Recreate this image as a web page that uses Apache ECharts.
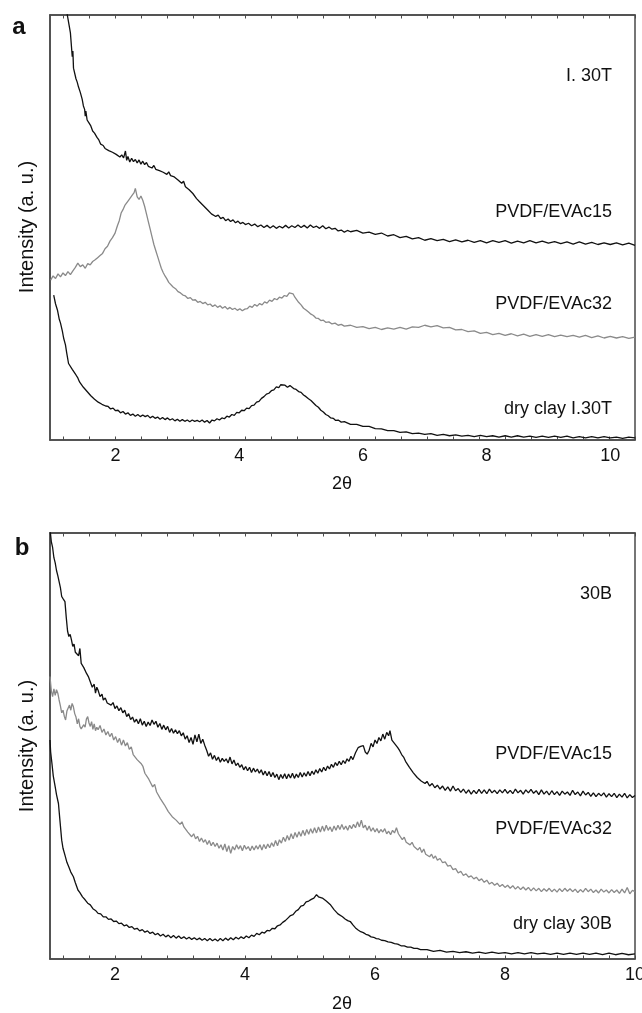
<!DOCTYPE html>
<html>
<head>
<meta charset="utf-8">
<script src="https://cdn.jsdelivr.net/npm/echarts@6/dist/echarts.min.js"></script>
<style>
html,body{margin:0;padding:0;background:#fff;}
#c{width:642px;height:1013px;}
</style>
</head>
<body>
<div id="c"></div>
<script>
// ---------- data (2θ, intensity a.u.) ----------
const xLabelsA = [2,4,6,8,10];
const xLabelsB = [2,4,6,8,10];
const xTicksA = [1.16,1.58,2.00,2.42,2.84,3.26,3.68,4.10,4.52,4.94,5.36,5.78,6.20,6.62,7.04,7.46,7.88,8.30,8.72,9.14,9.56,9.98,10.40];
const xTicksB = [1.2,1.6,2.0,2.4,2.8,3.2,3.6,4.0,4.4,4.8,5.2,5.6,6.0,6.4,6.8,7.2,7.6,8.0,8.4,8.8,9.2,9.6,10.0];

const labelsA = ["I. 30T","PVDF/EVAc15","PVDF/EVAc32","dry clay I.30T"];
const labelsB = ["30B","PVDF/EVAc15","PVDF/EVAc32","dry clay 30B"];

// Panel a — PVDF/EVAc15 (I.30T)
const a_evac15 = [[1.18,106],[1.22,100],[1.25,97.5],[1.27,95.8],[1.29,92],[1.30,90.2],[1.31,91.5],[1.32,87.5],[1.34,87.8],[1.36,85],[1.38,84.2],[1.40,83.1],[1.43,81.8],[1.46,80.2],[1.48,78.6],[1.50,77.8],[1.51,76.2],[1.52,77.4],[1.54,75.3],[1.57,74.6],[1.60,73.9],[1.63,72.7],[1.66,72.2],[1.70,71.2],[1.73,70.6],[1.76,69.6],[1.80,69.3],[1.83,68.6],[1.86,68.9],[1.89,68.1],[1.92,68.4],[1.95,67.7],[1.98,67.9],[2.01,67.2],[2.04,67.6],[2.07,66.6],[2.10,67.1],[2.13,66.4],[2.16,68.0],[2.18,65.8],[2.20,66.7],[2.23,65.4],[2.26,66.3],[2.29,65.5],[2.32,66.0],[2.35,65.2],[2.38,65.9],[2.41,64.9],[2.44,65.6],[2.47,64.8],[2.50,65.3],[2.53,64.4],[2.56,64.8],[2.59,64.0],[2.62,64.6],[2.65,63.7],[2.68,64.1],[2.71,63.4],[2.74,63.8],[2.77,63.0],[2.80,63.4],[2.83,62.5],[2.86,63.1],[2.89,62.2],[2.92,62.6],[2.95,61.9],[2.98,62.2],[3.01,61.2],[3.04,61.6],[3.07,60.4],[3.10,60.9],[3.13,59.6],[3.16,59.9],[3.19,58.9],[3.22,59.2],[3.25,58.0],[3.28,57.6],[3.31,56.8],[3.34,56.9],[3.37,55.9],[3.40,55.7],[3.43,55.0],[3.46,54.6],[3.49,54.1],[3.52,53.9],[3.55,53.2],[3.58,53.4],[3.62,52.6],[3.66,52.9],[3.70,52.1],[3.74,52.4],[3.78,51.6],[3.82,52.0],[3.86,51.4],[3.90,51.8],[3.94,51.1],[3.98,51.5],[4.02,50.9],[4.06,51.2],[4.10,50.7],[4.15,51.0],[4.20,50.4],[4.25,50.8],[4.30,50.2],[4.35,50.6],[4.40,50.0],[4.45,50.5],[4.50,49.9],[4.55,50.4],[4.60,49.8],[4.65,50.3],[4.70,49.9],[4.75,50.5],[4.80,49.9],[4.85,50.4],[4.90,50.0],[4.95,50.6],[5.00,50.0],[5.05,50.5],[5.10,49.9],[5.15,50.6],[5.20,50.0],[5.25,50.3],[5.30,49.8],[5.35,50.4],[5.40,49.7],[5.45,50.1],[5.50,49.6],[5.55,49.8],[5.60,49.2],[5.65,49.4],[5.70,48.9],[5.75,49.3],[5.80,49.0],[5.90,49.3],[6.00,48.7],[6.10,48.9],[6.20,48.4],[6.30,48.7],[6.40,48.0],[6.50,48.3],[6.60,47.6],[6.70,47.9],[6.80,47.3],[6.90,47.6],[7.00,47.0],[7.10,47.4],[7.20,46.9],[7.30,47.2],[7.40,46.7],[7.50,47.1],[7.60,46.6],[7.70,47.0],[7.80,46.5],[7.90,46.9],[8.00,46.4],[8.10,46.9],[8.20,46.5],[8.30,46.9],[8.40,46.3],[8.50,46.8],[8.60,46.4],[8.70,46.9],[8.80,46.4],[8.90,46.8],[9.00,46.3],[9.10,46.7],[9.20,46.2],[9.30,46.6],[9.40,46.1],[9.50,46.6],[9.60,46.1],[9.70,46.5],[9.80,46.0],[9.90,46.4],[10.00,46.0],[10.10,46.4],[10.20,45.9],[10.30,46.3],[10.40,45.8]];

// Panel a — PVDF/EVAc32 (I.30T)
const a_evac32 = [[0.95,37.6],[0.99,38.6],[1.03,38.0],[1.07,39.1],[1.11,38.4],[1.15,39.3],[1.19,38.7],[1.23,39.6],[1.27,38.9],[1.31,39.8],[1.35,40.6],[1.39,41.6],[1.43,40.8],[1.47,41.2],[1.51,40.4],[1.55,41.5],[1.59,41.2],[1.63,42.0],[1.67,42.4],[1.71,42.9],[1.75,43.4],[1.79,43.9],[1.83,45.0],[1.87,45.6],[1.91,46.8],[1.95,47.6],[1.99,48.6],[2.03,50.4],[2.06,51.6],[2.09,53.4],[2.12,54.2],[2.15,55.2],[2.18,55.6],[2.21,56.4],[2.24,56.6],[2.27,57.6],[2.30,58.2],[2.32,59.2],[2.35,57.2],[2.38,56.6],[2.41,57.4],[2.44,56.4],[2.47,55.0],[2.50,53.2],[2.53,51.4],[2.56,49.6],[2.59,47.8],[2.62,46.0],[2.65,44.6],[2.68,43.2],[2.71,41.8],[2.74,40.4],[2.77,39.4],[2.80,38.6],[2.83,37.9],[2.86,37.1],[2.89,36.8],[2.93,36.0],[2.97,35.6],[3.01,34.9],[3.05,34.6],[3.09,34.1],[3.13,33.9],[3.17,33.3],[3.21,33.5],[3.25,32.9],[3.29,33.0],[3.33,32.4],[3.37,32.6],[3.41,32.1],[3.45,32.4],[3.49,31.8],[3.53,32.0],[3.57,31.4],[3.61,31.8],[3.65,31.2],[3.69,31.6],[3.73,31.0],[3.77,31.4],[3.81,30.8],[3.85,31.2],[3.89,30.7],[3.93,31.0],[3.97,30.5],[4.01,30.9],[4.05,30.4],[4.09,30.8],[4.13,30.9],[4.17,31.5],[4.21,31.2],[4.25,31.9],[4.29,31.5],[4.33,32.1],[4.37,31.8],[4.41,32.5],[4.45,32.2],[4.49,32.9],[4.53,32.6],[4.57,33.3],[4.61,33.0],[4.65,33.6],[4.69,33.4],[4.73,34.0],[4.77,33.8],[4.81,34.6],[4.84,34.2],[4.87,34.4],[4.90,33.6],[4.93,33.2],[4.96,32.4],[5.00,31.8],[5.04,31.0],[5.08,30.6],[5.12,30.1],[5.16,29.6],[5.20,29.3],[5.24,28.7],[5.28,28.6],[5.32,28.1],[5.36,28.2],[5.40,27.7],[5.45,27.8],[5.50,27.3],[5.55,27.5],[5.60,27.0],[5.65,27.2],[5.70,26.8],[5.80,27.0],[5.90,26.5],[6.00,26.7],[6.10,26.2],[6.20,26.5],[6.30,26.0],[6.40,26.4],[6.50,26.1],[6.60,26.5],[6.70,26.1],[6.80,26.6],[6.90,26.5],[7.00,27.0],[7.10,26.6],[7.20,26.9],[7.30,26.4],[7.40,26.5],[7.50,25.9],[7.60,26.0],[7.70,25.5],[7.80,25.7],[7.90,25.1],[8.00,25.3],[8.10,24.8],[8.20,25.1],[8.30,24.6],[8.40,25.0],[8.50,24.5],[8.60,24.9],[8.70,24.4],[8.80,24.8],[8.90,24.4],[9.00,24.8],[9.10,24.3],[9.20,24.7],[9.30,24.3],[9.40,24.6],[9.50,24.2],[9.60,24.6],[9.70,24.1],[9.80,24.5],[9.90,24.0],[10.00,24.4],[10.10,24.0],[10.20,24.3],[10.30,23.9],[10.40,24.2]];

// Panel a — dry clay I.30T
const a_dry = [[1.00,34.1],[1.03,32.0],[1.06,30.6],[1.09,28.4],[1.11,27.5],[1.14,25.6],[1.16,24.0],[1.19,22.4],[1.21,20.5],[1.24,18.0],[1.27,17.6],[1.30,16.6],[1.33,16.3],[1.36,15.3],[1.39,14.6],[1.42,13.6],[1.45,13.2],[1.48,12.4],[1.51,12.1],[1.54,11.4],[1.57,11.0],[1.60,10.4],[1.63,10.0],[1.66,9.6],[1.69,9.5],[1.72,8.9],[1.75,9.0],[1.78,8.4],[1.81,8.5],[1.84,8.0],[1.88,7.9],[1.92,7.3],[1.96,7.5],[2.00,6.9],[2.04,7.0],[2.08,6.4],[2.12,6.7],[2.16,6.1],[2.20,6.4],[2.24,5.8],[2.28,6.1],[2.32,5.6],[2.36,6.0],[2.40,5.5],[2.44,5.9],[2.48,5.5],[2.52,5.8],[2.56,5.2],[2.60,5.6],[2.64,5.1],[2.68,5.4],[2.72,4.9],[2.76,5.3],[2.80,4.8],[2.84,5.2],[2.88,4.7],[2.92,5.0],[2.96,4.5],[3.00,4.9],[3.04,4.4],[3.08,4.8],[3.12,4.4],[3.16,4.7],[3.20,4.3],[3.24,4.7],[3.28,4.4],[3.32,4.6],[3.36,4.3],[3.40,4.7],[3.44,4.2],[3.48,4.6],[3.52,4.0],[3.56,4.7],[3.60,4.5],[3.64,5.0],[3.68,4.7],[3.72,5.2],[3.76,5.0],[3.80,5.6],[3.84,5.4],[3.88,6.0],[3.92,5.8],[3.96,6.5],[4.00,6.4],[4.04,7.0],[4.08,6.9],[4.12,7.5],[4.16,7.4],[4.20,8.1],[4.24,8.2],[4.28,8.9],[4.32,9.1],[4.36,9.8],[4.40,10.2],[4.44,10.8],[4.48,11.0],[4.52,11.6],[4.56,11.8],[4.60,12.5],[4.64,12.3],[4.67,13.0],[4.70,12.6],[4.74,12.9],[4.78,12.4],[4.82,12.8],[4.85,12.6],[4.88,12.1],[4.92,11.9],[4.96,11.4],[5.00,11.2],[5.04,10.6],[5.08,10.2],[5.12,9.7],[5.16,9.3],[5.20,8.7],[5.24,8.1],[5.28,7.7],[5.32,7.0],[5.36,6.6],[5.40,6.0],[5.44,5.7],[5.48,5.2],[5.52,5.1],[5.56,4.6],[5.60,4.7],[5.65,4.2],[5.70,4.3],[5.80,3.7],[5.90,3.7],[6.00,3.2],[6.10,3.2],[6.20,2.7],[6.30,2.6],[6.40,2.2],[6.50,2.2],[6.60,1.8],[6.70,1.9],[6.80,1.5],[6.90,1.6],[7.00,1.3],[7.10,1.5],[7.20,1.1],[7.30,1.3],[7.40,1.0],[7.50,1.2],[7.60,0.9],[7.70,1.1],[7.80,0.8],[7.90,1.1],[8.00,0.8],[8.10,1.0],[8.20,0.7],[8.30,1.0],[8.40,0.7],[8.50,1.0],[8.60,0.7],[8.70,0.9],[8.80,0.6],[8.90,0.9],[9.00,0.6],[9.10,0.9],[9.20,0.6],[9.30,0.9],[9.40,0.5],[9.50,0.8],[9.60,0.5],[9.70,0.8],[9.80,0.5],[9.90,0.8],[10.00,0.5],[10.10,0.7],[10.20,0.4],[10.30,0.7],[10.40,0.5]];

// Panel b — PVDF/EVAc15 (30B)
const b_evac15 = [[1.00,101],[1.02,98.0],[1.04,96.6],[1.06,94.2],[1.08,93.0],[1.10,91.2],[1.12,90.0],[1.14,88.6],[1.16,87.2],[1.18,85.1],[1.20,84.6],[1.23,83.9],[1.25,80.2],[1.27,77.0],[1.29,75.7],[1.31,76.2],[1.33,74.9],[1.35,73.4],[1.37,73.9],[1.39,72.0],[1.41,71.8],[1.44,71.2],[1.46,72.9],[1.48,69.4],[1.50,69.8],[1.52,68.4],[1.54,68.8],[1.56,67.1],[1.59,66.3],[1.62,65.9],[1.65,63.8],[1.68,64.5],[1.70,62.4],[1.72,63.8],[1.74,63.1],[1.77,61.6],[1.80,62.2],[1.82,60.8],[1.85,61.3],[1.88,60.1],[1.91,60.4],[1.94,59.6],[1.97,60.2],[2.00,58.8],[2.03,59.4],[2.06,58.3],[2.09,59.0],[2.12,57.8],[2.15,58.4],[2.18,56.9],[2.21,57.6],[2.24,56.2],[2.27,56.8],[2.30,55.6],[2.33,56.3],[2.36,55.2],[2.39,56.4],[2.42,54.9],[2.45,55.8],[2.48,54.6],[2.51,55.6],[2.54,54.8],[2.57,56.1],[2.60,55.1],[2.63,55.8],[2.66,54.4],[2.69,55.3],[2.72,53.9],[2.75,54.9],[2.78,53.8],[2.81,54.6],[2.84,53.2],[2.87,54.1],[2.90,53.0],[2.93,53.8],[2.96,52.9],[2.99,53.6],[3.02,52.4],[3.05,53.1],[3.08,51.6],[3.11,52.4],[3.14,50.8],[3.17,52.0],[3.20,50.4],[3.23,52.6],[3.26,51.0],[3.29,52.8],[3.32,50.6],[3.35,51.6],[3.38,50.2],[3.41,49.0],[3.44,47.6],[3.47,48.4],[3.50,46.9],[3.53,47.8],[3.56,46.6],[3.59,47.4],[3.62,46.2],[3.65,47.1],[3.68,46.4],[3.71,47.0],[3.74,46.0],[3.77,47.4],[3.80,45.8],[3.83,46.7],[3.86,45.4],[3.89,46.0],[3.92,45.0],[3.95,45.6],[3.98,44.4],[4.01,45.2],[4.04,44.2],[4.07,45.0],[4.10,43.8],[4.13,44.8],[4.16,43.9],[4.19,44.6],[4.22,43.6],[4.25,44.4],[4.28,43.2],[4.31,44.1],[4.34,43.0],[4.37,44.0],[4.40,42.8],[4.43,43.8],[4.46,42.6],[4.49,43.4],[4.52,42.1],[4.55,43.3],[4.58,42.4],[4.61,43.5],[4.64,42.3],[4.67,43.4],[4.70,42.5],[4.73,43.6],[4.76,42.4],[4.79,43.4],[4.82,42.6],[4.85,43.8],[4.88,42.7],[4.91,43.7],[4.94,42.9],[4.97,44.0],[5.00,43.0],[5.03,44.1],[5.06,43.3],[5.09,44.4],[5.12,43.6],[5.15,44.7],[5.18,43.9],[5.21,45.0],[5.24,44.2],[5.27,45.3],[5.30,44.6],[5.33,45.7],[5.36,45.0],[5.39,46.1],[5.42,45.4],[5.45,46.4],[5.48,45.6],[5.51,46.6],[5.54,45.9],[5.57,47.0],[5.60,46.4],[5.63,47.6],[5.66,46.8],[5.70,48.4],[5.74,49.6],[5.78,49.9],[5.82,50.1],[5.85,48.6],[5.88,48.1],[5.91,49.0],[5.94,50.6],[5.97,49.8],[6.00,51.4],[6.03,50.6],[6.06,52.0],[6.09,51.2],[6.12,52.8],[6.15,51.6],[6.18,53.2],[6.21,52.4],[6.23,53.6],[6.26,51.4],[6.29,51.8],[6.32,50.2],[6.35,49.6],[6.38,48.9],[6.41,48.0],[6.44,47.4],[6.47,46.4],[6.50,46.0],[6.53,45.0],[6.56,44.8],[6.59,43.7],[6.62,43.6],[6.65,42.6],[6.68,42.8],[6.71,41.8],[6.74,42.2],[6.77,41.2],[6.80,41.7],[6.84,40.6],[6.88,41.2],[6.92,40.2],[6.96,40.8],[7.00,39.9],[7.04,40.6],[7.08,39.6],[7.12,40.4],[7.16,39.4],[7.20,40.6],[7.24,39.5],[7.28,40.0],[7.32,39.1],[7.36,39.9],[7.40,38.9],[7.44,39.7],[7.48,38.7],[7.52,39.6],[7.56,38.8],[7.60,39.8],[7.64,38.9],[7.68,39.7],[7.72,38.8],[7.76,39.9],[7.80,39.0],[7.84,39.6],[7.88,38.8],[7.92,39.7],[7.96,39.0],[8.00,39.8],[8.04,38.9],[8.08,39.6],[8.12,38.8],[8.16,39.9],[8.20,39.0],[8.24,39.6],[8.28,38.7],[8.32,39.7],[8.36,39.0],[8.40,39.8],[8.44,38.9],[8.48,39.5],[8.52,38.6],[8.56,39.7],[8.60,38.7],[8.64,39.4],[8.68,38.5],[8.72,39.5],[8.76,38.6],[8.80,39.3],[8.84,38.4],[8.88,39.4],[8.92,38.7],[8.96,39.2],[9.00,38.4],[9.04,39.6],[9.08,38.6],[9.12,39.2],[9.16,38.3],[9.20,39.4],[9.24,38.5],[9.28,39.1],[9.32,38.2],[9.36,39.0],[9.40,38.1],[9.44,38.9],[9.48,38.3],[9.52,39.0],[9.56,38.0],[9.60,38.8],[9.64,38.1],[9.68,38.9],[9.72,37.9],[9.76,38.7],[9.80,38.0],[9.84,38.9],[9.88,37.8],[9.92,38.6],[9.96,37.9],[10.00,38.4]];

// Panel b — PVDF/EVAc32 (30B)
const b_evac32 = [[1.00,66.3],[1.02,63.0],[1.04,61.6],[1.06,63.4],[1.08,61.9],[1.10,63.2],[1.12,62.4],[1.14,60.8],[1.16,59.4],[1.18,57.8],[1.20,58.4],[1.22,57.0],[1.24,56.1],[1.26,58.2],[1.28,57.9],[1.30,59.6],[1.32,58.4],[1.34,60.0],[1.36,59.2],[1.38,57.6],[1.40,56.8],[1.42,55.2],[1.44,56.4],[1.46,54.6],[1.48,54.0],[1.50,53.8],[1.52,55.0],[1.54,54.4],[1.56,56.3],[1.58,56.9],[1.60,55.4],[1.62,54.6],[1.64,55.7],[1.66,53.9],[1.68,55.2],[1.70,53.6],[1.72,54.4],[1.74,53.8],[1.77,54.8],[1.80,53.2],[1.83,54.0],[1.86,52.6],[1.89,53.4],[1.92,52.2],[1.95,53.0],[1.98,51.4],[2.01,52.2],[2.04,50.8],[2.07,51.8],[2.10,50.2],[2.13,51.4],[2.16,50.0],[2.19,50.8],[2.22,49.2],[2.25,49.8],[2.28,48.0],[2.31,47.6],[2.34,46.8],[2.37,47.2],[2.40,45.9],[2.43,45.2],[2.46,43.6],[2.49,43.9],[2.52,42.2],[2.55,41.8],[2.58,40.4],[2.61,41.0],[2.64,39.2],[2.67,38.8],[2.70,37.6],[2.73,37.9],[2.76,36.2],[2.79,35.8],[2.82,34.6],[2.85,34.9],[2.88,33.4],[2.91,33.8],[2.94,32.6],[2.97,32.9],[3.00,31.6],[3.03,32.2],[3.06,31.0],[3.09,31.2],[3.12,29.8],[3.15,30.0],[3.18,28.7],[3.21,29.4],[3.24,28.2],[3.27,28.8],[3.30,27.6],[3.33,28.4],[3.36,27.4],[3.39,28.0],[3.42,26.9],[3.45,27.8],[3.48,26.6],[3.51,27.4],[3.54,26.4],[3.57,27.2],[3.60,26.0],[3.63,26.8],[3.66,25.6],[3.69,27.0],[3.72,25.2],[3.75,26.6],[3.78,24.8],[3.81,26.4],[3.84,25.6],[3.87,26.8],[3.90,25.8],[3.93,26.6],[3.96,25.4],[3.99,26.7],[4.02,25.8],[4.05,26.4],[4.08,25.4],[4.11,26.5],[4.14,25.6],[4.17,26.6],[4.20,25.8],[4.23,26.8],[4.26,25.6],[4.29,26.9],[4.32,25.9],[4.35,27.0],[4.38,26.1],[4.41,27.3],[4.44,26.4],[4.47,27.8],[4.50,26.6],[4.53,28.0],[4.56,27.2],[4.59,28.6],[4.62,27.6],[4.65,29.0],[4.68,27.9],[4.71,29.4],[4.74,28.2],[4.77,29.7],[4.80,28.6],[4.83,29.9],[4.86,28.8],[4.89,30.2],[4.92,29.0],[4.95,30.4],[4.98,29.3],[5.01,30.6],[5.04,29.5],[5.07,30.8],[5.10,29.6],[5.13,31.0],[5.16,29.8],[5.19,31.2],[5.22,30.0],[5.25,31.4],[5.28,30.2],[5.31,31.0],[5.34,29.9],[5.37,31.2],[5.40,30.2],[5.43,31.4],[5.46,30.4],[5.49,31.6],[5.52,30.4],[5.55,31.2],[5.58,30.2],[5.61,31.4],[5.64,30.6],[5.67,31.6],[5.70,30.8],[5.73,32.2],[5.76,31.0],[5.79,32.6],[5.82,30.8],[5.85,31.4],[5.88,30.2],[5.91,31.2],[5.94,30.0],[5.97,30.8],[6.00,29.8],[6.03,30.6],[6.06,29.6],[6.09,30.4],[6.12,29.8],[6.15,30.6],[6.18,29.4],[6.21,30.0],[6.24,29.2],[6.27,30.2],[6.30,29.6],[6.33,30.8],[6.36,29.4],[6.39,29.0],[6.42,28.0],[6.45,28.6],[6.48,27.4],[6.51,27.8],[6.54,26.8],[6.57,27.4],[6.60,26.4],[6.63,26.8],[6.66,25.6],[6.69,26.2],[6.72,25.0],[6.75,25.8],[6.78,24.6],[6.81,25.0],[6.84,24.0],[6.87,24.6],[6.90,23.6],[6.93,24.2],[6.96,23.2],[7.00,23.6],[7.04,22.6],[7.08,22.8],[7.12,21.8],[7.16,22.0],[7.20,21.0],[7.24,21.2],[7.28,20.2],[7.32,20.6],[7.36,19.6],[7.40,20.0],[7.44,19.2],[7.48,19.5],[7.52,18.8],[7.56,19.2],[7.60,18.4],[7.64,18.8],[7.68,18.0],[7.72,18.5],[7.76,17.6],[7.80,18.0],[7.84,17.3],[7.88,17.8],[7.92,17.0],[7.96,17.5],[8.00,16.8],[8.04,17.3],[8.08,16.6],[8.12,17.2],[8.16,16.4],[8.20,17.0],[8.24,16.3],[8.28,16.9],[8.32,16.2],[8.36,16.8],[8.40,16.0],[8.44,16.7],[8.48,16.0],[8.52,16.6],[8.56,15.8],[8.60,16.5],[8.64,15.9],[8.68,16.6],[8.72,15.8],[8.76,16.4],[8.80,15.7],[8.84,16.5],[8.88,15.8],[8.92,16.6],[8.96,15.9],[9.00,16.5],[9.04,15.8],[9.08,16.4],[9.12,15.6],[9.16,16.3],[9.20,15.7],[9.24,16.6],[9.28,15.8],[9.32,16.4],[9.36,15.6],[9.40,16.2],[9.44,15.5],[9.48,16.4],[9.52,15.7],[9.56,16.2],[9.60,15.5],[9.64,16.3],[9.68,15.6],[9.72,16.2],[9.76,15.4],[9.80,16.4],[9.84,15.5],[9.88,16.8],[9.92,15.3],[9.96,16.1],[10.00,15.8]];

// Panel b — dry clay 30B
const b_dry = [[1.00,51.4],[1.01,48.6],[1.03,45.9],[1.05,43.0],[1.08,40.4],[1.10,38.6],[1.13,36.5],[1.15,33.0],[1.18,27.9],[1.20,26.0],[1.23,24.4],[1.26,22.7],[1.29,21.6],[1.32,20.4],[1.36,19.3],[1.39,17.9],[1.43,16.2],[1.46,15.6],[1.50,14.6],[1.54,13.9],[1.58,13.1],[1.62,12.7],[1.66,11.8],[1.70,11.4],[1.74,10.7],[1.78,10.6],[1.82,9.9],[1.86,9.9],[1.90,9.3],[1.94,9.4],[1.98,8.8],[2.02,8.9],[2.06,8.3],[2.10,8.4],[2.14,7.8],[2.18,8.0],[2.22,7.4],[2.26,7.6],[2.30,7.0],[2.34,7.2],[2.38,6.6],[2.42,6.9],[2.46,6.3],[2.50,6.6],[2.54,6.0],[2.58,6.3],[2.62,5.7],[2.66,6.0],[2.70,5.4],[2.74,5.8],[2.78,5.2],[2.82,5.6],[2.86,5.0],[2.90,5.5],[2.94,4.9],[2.98,5.4],[3.02,4.8],[3.06,5.2],[3.10,4.7],[3.14,5.1],[3.18,4.6],[3.22,5.0],[3.26,4.5],[3.30,4.9],[3.34,4.4],[3.38,4.8],[3.42,4.3],[3.46,4.8],[3.50,4.3],[3.54,4.7],[3.58,4.2],[3.62,4.8],[3.66,4.3],[3.70,4.9],[3.74,4.4],[3.78,5.0],[3.82,4.5],[3.86,5.1],[3.90,4.7],[3.94,5.2],[3.98,4.8],[4.02,5.4],[4.06,5.0],[4.10,5.6],[4.14,5.3],[4.18,6.0],[4.22,5.7],[4.26,6.3],[4.30,6.1],[4.34,6.7],[4.38,6.6],[4.42,7.2],[4.46,7.1],[4.50,7.8],[4.54,8.0],[4.58,8.6],[4.62,9.0],[4.66,9.6],[4.70,10.2],[4.74,10.4],[4.78,11.2],[4.82,11.6],[4.86,12.4],[4.90,12.6],[4.94,13.4],[4.98,13.6],[5.02,14.0],[5.06,14.3],[5.10,15.1],[5.13,14.6],[5.16,14.8],[5.19,14.3],[5.22,14.2],[5.25,13.6],[5.28,13.3],[5.31,12.8],[5.34,12.5],[5.37,11.6],[5.40,11.2],[5.43,10.6],[5.46,10.3],[5.50,9.9],[5.54,9.4],[5.58,9.0],[5.62,8.8],[5.66,8.0],[5.70,7.3],[5.74,6.8],[5.78,6.4],[5.82,6.2],[5.86,5.8],[5.90,5.6],[5.94,5.2],[5.98,5.1],[6.02,4.8],[6.06,4.7],[6.10,4.4],[6.15,4.3],[6.20,4.0],[6.25,3.9],[6.30,3.6],[6.35,3.5],[6.40,3.1],[6.45,3.1],[6.50,2.8],[6.55,2.8],[6.60,2.5],[6.65,2.5],[6.70,2.2],[6.80,2.2],[6.90,1.8],[7.00,2.0],[7.10,1.6],[7.20,1.8],[7.30,1.5],[7.40,1.7],[7.50,1.4],[7.60,1.6],[7.70,1.3],[7.80,1.6],[7.90,1.3],[8.00,1.5],[8.10,1.2],[8.20,1.5],[8.30,1.2],[8.40,1.5],[8.50,1.2],[8.60,1.4],[8.70,1.1],[8.80,1.4],[8.90,1.1],[9.00,1.4],[9.10,1.1],[9.20,1.4],[9.30,1.1],[9.40,1.4],[9.50,1.0],[9.60,1.4],[9.70,1.0],[9.80,1.3],[9.90,1.0],[10.00,1.2]];

// ---------- chart ----------
const FONT = "'Liberation Sans', Arial, Helvetica, sans-serif";
const AX = '#4a4a4a';
const BLACK = '#111111';
const GRAY = '#8a8a8a';

function xAx(grid, min, max, pos, ticks, labels) {
  return {
    type: 'value', gridIndex: grid, min: min, max: max, position: pos,
    splitLine: {show: false},
    axisLine: {show: true, onZero: false, lineStyle: {color: AX, width: 1.5}},
    axisTick: {show: true, inside: true, length: 3.5, customValues: ticks, lineStyle: {color: AX, width: 1}},
    axisLabel: pos === 'bottom'
      ? {show: true, customValues: labels, margin: 7, color: '#111', fontSize: 18, fontFamily: FONT, hideOverlap: false, showMaxLabel: true}
      : {show: false}
  };
}
function yAx(grid) {
  return {
    type: 'value', gridIndex: grid, min: 0, max: 100, position: 'left',
    splitLine: {show: false},
    axisLine: {show: true, lineStyle: {color: AX, width: 1.5}},
    axisTick: {show: false}, axisLabel: {show: false}
  };
}
function line(name, data, xi, yi, color) {
  return {
    name: name, type: 'line', data: data, xAxisIndex: xi, yAxisIndex: yi,
    showSymbol: false, symbol: 'none', clip: true, silent: true,
    lineStyle: {color: color, width: 1.3}, itemStyle: {color: color},
    animation: false
  };
}
function txt(s, x, y, opts) {
  return Object.assign({
    type: 'text', x: x, y: y, silent: true,
    style: Object.assign({
      text: s, fill: '#111', font: '18px ' + FONT,
      textAlign: 'right', textVerticalAlign: 'middle', align: 'right', verticalAlign: 'middle'
    }, (opts && opts.style) || {})
  }, (opts && opts.el) || {});
}

const chart = echarts.init(document.getElementById('c'), null, {renderer: 'canvas'});
chart.setOption({
  backgroundColor: '#ffffff',
  animation: false,
  grid: [
    {left: 50, top: 15, right: 7, height: 425, show: true, borderColor: AX, borderWidth: 1.5, containLabel: false, outerBoundsMode: 'none'},
    {left: 50, top: 533, right: 7, height: 426, show: true, borderColor: AX, borderWidth: 1.5, containLabel: false, outerBoundsMode: 'none'}
  ],
  xAxis: [
    xAx(0, 0.94, 10.4, 'bottom', xTicksA, xLabelsA),
    xAx(0, 0.94, 10.4, 'top', xTicksA, xLabelsA),
    xAx(1, 1, 10, 'bottom', xTicksB, xLabelsB),
    xAx(1, 1, 10, 'top', xTicksB, xLabelsB)
  ],
  yAxis: [yAx(0), yAx(1)],
  series: [
    line('a PVDF/EVAc15', a_evac15, 0, 0, BLACK),
    line('a PVDF/EVAc32', a_evac32, 0, 0, GRAY),
    line('a dry clay I.30T', a_dry, 0, 0, BLACK),
    line('b PVDF/EVAc15', b_evac15, 2, 1, BLACK),
    line('b PVDF/EVAc32', b_evac32, 2, 1, GRAY),
    line('b dry clay 30B', b_dry, 2, 1, BLACK)
  ],
  graphic: [
    txt('a', 19, 27, {style: {font: 'bold 24px ' + FONT, textAlign: 'center', align: 'center'}}),
    txt('b', 22, 548, {style: {font: 'bold 24px ' + FONT, textAlign: 'center', align: 'center'}}),
    txt('Intensity (a. u.)', 27, 227, {style: {font: '20px ' + FONT, textAlign: 'center', align: 'center'}, el: {rotation: Math.PI / 2}}),
    txt('Intensity (a. u.)', 27, 746, {style: {font: '20px ' + FONT, textAlign: 'center', align: 'center'}, el: {rotation: Math.PI / 2}}),
    txt('2θ', 342, 484, {style: {textAlign: 'center', align: 'center'}}),
    txt('2θ', 342, 1004, {style: {textAlign: 'center', align: 'center'}}),
    txt(labelsA[0], 612, 76),
    txt(labelsA[1], 612, 212),
    txt(labelsA[2], 612, 304),
    txt(labelsA[3], 612, 409),
    txt(labelsB[0], 612, 594),
    txt(labelsB[1], 612, 754),
    txt(labelsB[2], 612, 829),
    txt(labelsB[3], 612, 924)
  ]
});
</script>
</body>
</html>
